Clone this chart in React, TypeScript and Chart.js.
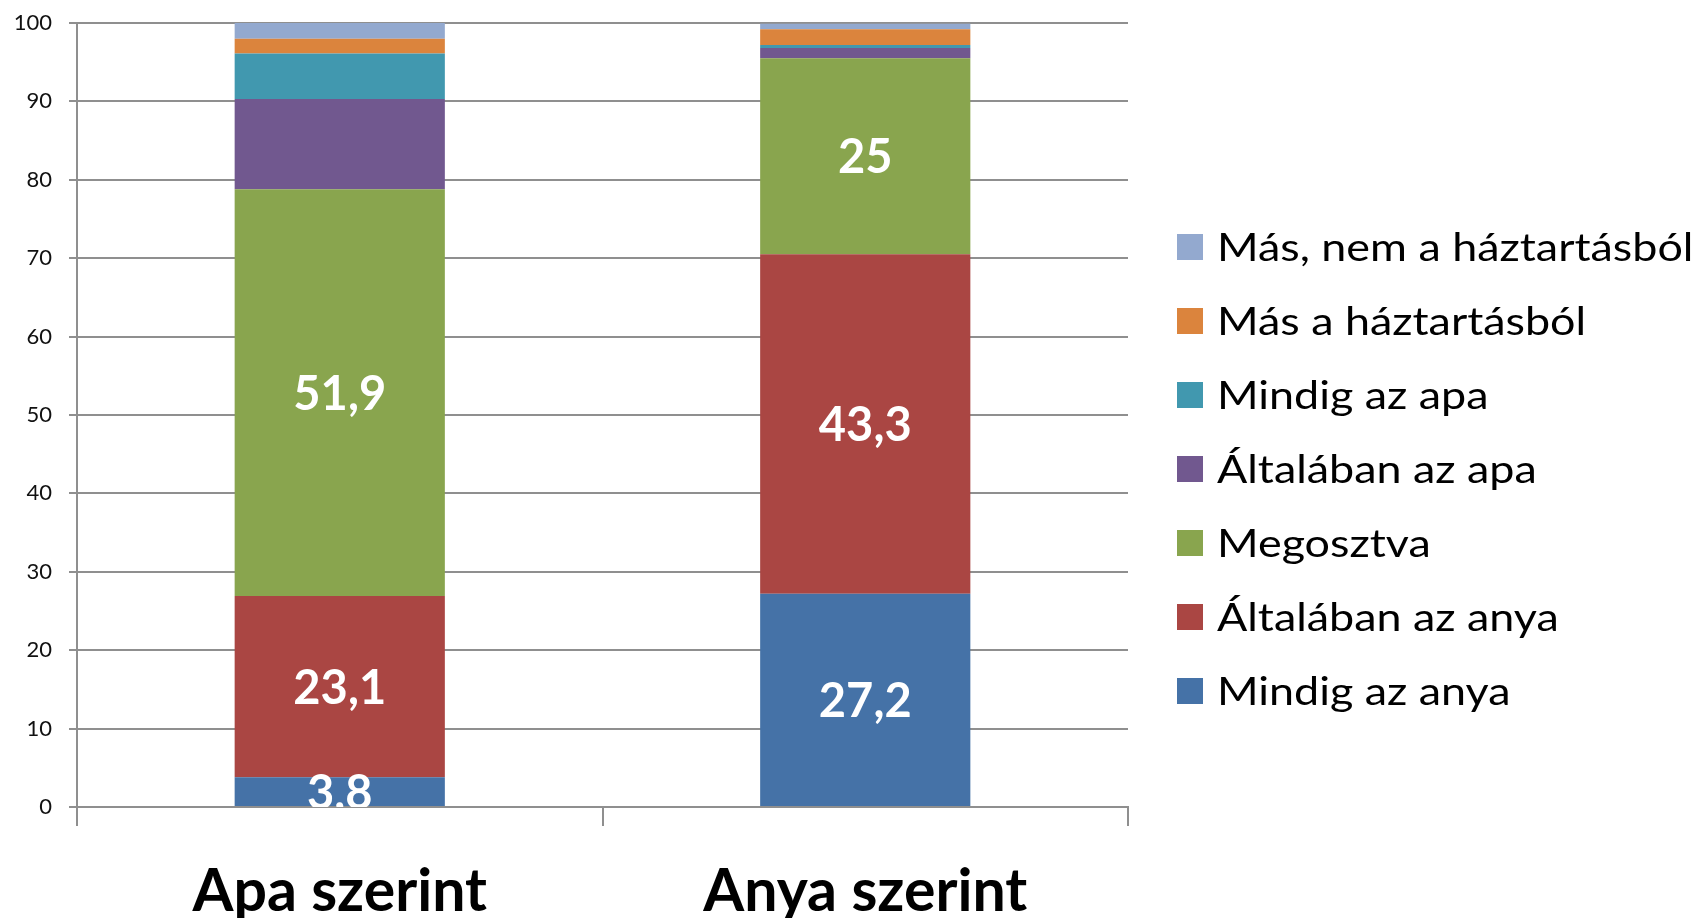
import React, { useEffect, useRef } from "react";
import { Chart, registerables } from "chart.js";

Chart.register(...registerables);

const categories = ["Apa szerint", "Anya szerint"];
const seriesNames = [
  "Mindig az anya",
  "Általában az anya",
  "Megosztva",
  "Általában az apa",
  "Mindig az apa",
  "Más a háztartásból",
  "Más, nem a háztartásból",
];
const mindigAnya = [3.8, 27.2];
const altalabanAnya = [23.1, 43.3];
const megosztva = [51.9, 25.0];
const altalabanApa = [11.5, 1.3];
const mindigApa = [5.8, 0.4];
const masHaztartasbol = [1.9, 2.0];
const masNemHaztartasbol = [2.0, 0.7];
const seriesColors = ["#4572A7", "#AA4643", "#89A54E", "#71588F", "#4198AF", "#DB843D", "#93A9CF"];
const labelledSeries = [0, 1, 2];
const yTicks = [0, 10, 20, 30, 40, 50, 60, 70, 80, 90, 100];

const seriesValues = [mindigAnya, altalabanAnya, megosztva, altalabanApa, mindigApa, masHaztartasbol, masNemHaztartasbol];

const fmt = (v: number) => String(v).replace(".", ",");

const dataLabelPlugin = {
  id: "inlineDataLabels",
  afterDatasetsDraw(chart: any) {
    const { ctx, chartArea } = chart;
    ctx.save();
    ctx.beginPath();
    ctx.rect(chartArea.left, chartArea.top, chartArea.right - chartArea.left, chartArea.bottom - chartArea.top);
    ctx.clip();
    ctx.fillStyle = "#ffffff";
    ctx.font = "bold 47px Lato";
    ctx.textAlign = "center";
    ctx.textBaseline = "middle";
    labelledSeries.forEach((di) => {
      const meta = chart.getDatasetMeta(di);
      meta.data.forEach((el: any, i: number) => {
        const v = chart.data.datasets[di].data[i];
        const y = (el.y + el.base) / 2;
        ctx.fillText(fmt(v), el.x, y + 2);
      });
    });
    ctx.restore();
  },
};

// Legend drawn on the canvas, items in reverse dataset order (top = last series)
const legendPlugin = {
  id: "sideLegend",
  afterDraw(chart: any) {
    const { ctx, chartArea } = chart;
    const box = 26;
    const rowGap = 74;
    const x0 = chartArea.right + 49;
    const yFirst = chartArea.top + 224;
    const stretch = 1.15;
    ctx.save();
    ctx.font = "39px Lato";
    ctx.textAlign = "left";
    ctx.textBaseline = "alphabetic";
    const ds = chart.data.datasets;
    for (let k = 0; k < ds.length; k++) {
      const d = ds[ds.length - 1 - k];
      const cy = yFirst + k * rowGap;
      ctx.fillStyle = d.backgroundColor;
      ctx.fillRect(x0, cy - box / 2, box, box);
      ctx.save();
      ctx.translate(x0 + box + 14, cy + 14);
      ctx.scale(stretch, 1);
      ctx.fillStyle = "#000";
      ctx.fillText(d.label, 0, 0);
      ctx.restore();
    }
    ctx.restore();
  },
};

export default function App() {
  const ref = useRef<HTMLCanvasElement | null>(null);
  useEffect(() => {
    let chart: Chart | null = null;
    let cancelled = false;
    const build = () => {
      if (cancelled || !ref.current) return;
      chart = new Chart(ref.current, {
        type: "bar",
        data: {
          labels: categories,
          datasets: seriesNames.map((name, i) => ({
            label: name,
            data: seriesValues[i],
            backgroundColor: seriesColors[i],
            borderWidth: 0,
            categoryPercentage: 1,
            barPercentage: 0.4,
          })),
        },
        options: {
          animation: false,
          responsive: true,
          maintainAspectRatio: false,
          layout: { padding: { top: 23, left: 14, right: 573, bottom: 0 } },
          plugins: {
            tooltip: { enabled: false },
            legend: { display: false },
          },
          scales: {
            x: {
              stacked: true,
              afterFit: (s: any) => {
                s.height = 111;
              },
              grid: {
                offset: true,
                drawOnChartArea: false,
                drawTicks: true,
                tickLength: 19,
                color: "#8f8f8f",
                lineWidth: 2,
              },
              border: { display: true, color: "#8f8f8f", width: 2 },
              ticks: {
                color: "#000",
                padding: 31,
                font: { family: "Lato", size: 59, weight: "bold" },
              },
            },
            y: {
              stacked: true,
              min: 0,
              max: 100,
              afterFit: (s: any) => {
                s.width = 63;
                s.paddingTop = 0;
                s.paddingBottom = 0;
              },
              afterBuildTicks: (s: any) => {
                s.ticks = yTicks.map((v) => ({ value: v }));
              },
              grid: {
                color: "#8f8f8f",
                lineWidth: 2,
                tickLength: 8,
              },
              border: { display: true, color: "#8f8f8f", width: 2 },
              ticks: {
                color: "#111",
                padding: 17,
                font: { family: "Lato", size: 22 },
              },
            },
          },
        },
        plugins: [dataLabelPlugin, legendPlugin],
      } as any);
    };
    const fonts = (document as any).fonts;
    if (fonts && fonts.load) {
      Promise.all([
        fonts.load("bold 47px Lato"),
        fonts.load("39px Lato"),
        fonts.load("bold 59px Lato"),
        fonts.load("22px Lato"),
      ]).then(build, build);
    } else {
      build();
    }
    return () => {
      cancelled = true;
      if (chart) chart.destroy();
    };
  }, []);
  return (
    <div style={{ position: "absolute", left: 0, top: 0, width: 1701, height: 918 }}>
      <canvas ref={ref} />
    </div>
  );
}
